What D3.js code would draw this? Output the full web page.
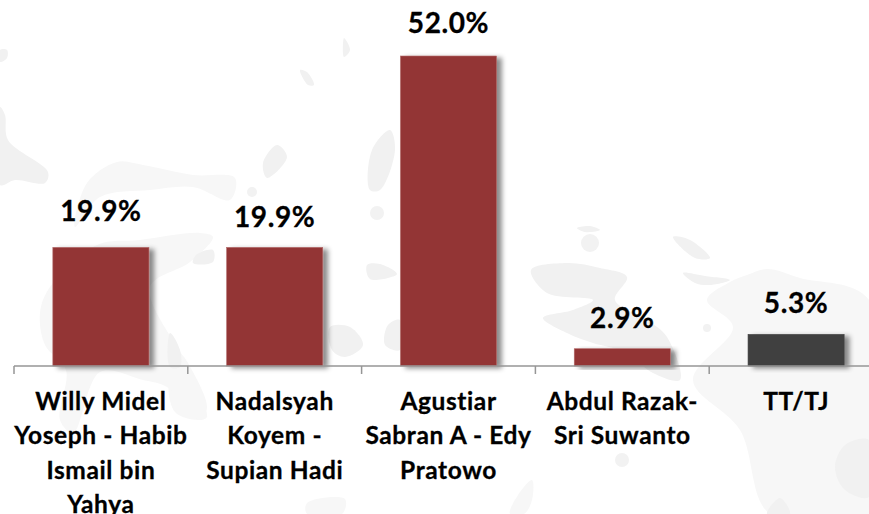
<!DOCTYPE html>
<html>
<head>
<meta charset="utf-8">
<script src="https://cdn.jsdelivr.net/npm/d3@7"></script>
<style>
html, body { margin: 0; padding: 0; background: #fff; }
svg { display: block; }
text { font-family: Lato, "Open Sans", sans-serif; font-weight: 700; fill: #000; stroke: #000; stroke-width: 0.3px; }
</style>
</head>
<body>
<div id="chart"></div>
<script>
var categories = [
    ["Willy Midel", "Yoseph - Habib", "Ismail bin", "Yahya"],
    ["Nadalsyah", "Koyem -", "Supian Hadi"],
    ["Agustiar", "Sabran A - Edy", "Pratowo"],
    ["Abdul Razak-", "Sri Suwanto"],
    ["TT/TJ"]
];
var values = [19.9, 19.9, 52.0, 2.9, 5.3];
var valueLabels = ["19.9%", "19.9%", "52.0%", "2.9%", "5.3%"];
var barColors = ["#933635", "#933635", "#933635", "#933635", "#404040"];
var barEdges = ["#b26a69", "#b26a69", "#b26a69", "#b26a69", "#404040"];

var width = 869, height = 514;
var axisY = 366;

// faint map of islands behind the chart
var paleIslands = [
    [[707,300],[730,282],[747,275],[767,269],[800,278],[869,300],[869,514],[770,514],[740,430],[693,380],[733,327]],
    [[510,514],[518,495],[532,480],[532,500],[524,514]],
    [[170,383],[190,385],[207,417],[198,420],[175,412]],
    [[40,313],[50,287],[97,245],[140,240],[200,233],[213,237],[190,262],[150,287],[177,347],[188,363],[207,407],[200,420],[167,387],[143,380],[100,372],[73,433],[60,420],[66,370],[45,345]],
    [[75,227],[87,183],[117,162],[143,165],[193,175],[235,178],[230,200],[193,187],[150,190],[100,197]],
    [[307,503],[345,499],[342,514],[307,514]]
];
var darkIslands = [
    [[531,270],[567,263],[600,268],[627,277],[615,300],[647,320],[667,337],[680,380],[653,373],[625,352],[593,343],[567,333],[543,318],[573,310],[593,300],[547,293]],
    [[869,440],[845,445],[835,467],[845,490],[869,497]],
    [[767,514],[780,498],[790,514]],
    [[683,273],[705,276],[730,280],[710,285],[695,283]],
    [[673,237],[690,240],[710,258],[695,258]],
    [[0,107],[5,115],[8,140],[48,172],[45,183],[15,180],[0,185]],
    [[263,163],[277,145],[287,157],[267,178]],
    [[193,263],[196,255],[213,250],[213,262]],
    [[367,265],[380,264],[397,274],[370,279]],
    [[330,327],[350,327],[363,345],[345,357],[332,350]],
    [[385,345],[388,325],[400,320],[400,350]],
    [[370,190],[372,150],[390,130],[395,150],[380,190]],
    [[344,38],[350,50],[344,57]],
    [[300,70],[307,72],[314,85],[308,85]],
    [[170,333],[180,350],[180,367],[170,367]],
    [[0,50],[7,50],[7,58],[0,62]],
    [[577,228],[590,226],[600,230],[585,232]]
];
var roundIslands = [
    [590, 243, 9], [707, 328, 4], [622, 460, 7], [252, 192, 5], [377, 213, 7]
];

var svg = d3.select("#chart").append("svg")
    .attr("width", width)
    .attr("height", height);

var defs = svg.append("defs");
var shadow = defs.append("filter").attr("id", "barShadow")
    .attr("x", "-10%").attr("y", "-10%").attr("width", "130%").attr("height", "130%");
shadow.append("feDropShadow")
    .attr("dx", 5).attr("dy", 2)
    .attr("stdDeviation", 2.5)
    .attr("flood-color", "#000")
    .attr("flood-opacity", 0.45);

var blob = d3.line().curve(d3.curveCatmullRomClosed.alpha(0.5));
var map = svg.append("g");
map.selectAll(".pale")
    .data(paleIslands)
    .enter().append("path")
    .attr("class", "pale")
    .attr("d", blob)
    .attr("fill", "#f7f7f7");
map.selectAll(".dark")
    .data(darkIslands)
    .enter().append("path")
    .attr("class", "dark")
    .attr("d", blob)
    .attr("fill", "#f1f1f1");
map.selectAll("circle")
    .data(roundIslands)
    .enter().append("circle")
    .attr("cx", function(d) { return d[0]; })
    .attr("cy", function(d) { return d[1]; })
    .attr("r", function(d) { return d[2]; })
    .attr("fill", "#f2f2f2");

var x = d3.scaleBand()
    .domain(d3.range(categories.length))
    .range([14, 883])
    .paddingInner(0.447)
    .paddingOuter(0.2235);

var y = d3.scaleLinear()
    .domain([0, 52])
    .range([axisY, 56]);

svg.append("g").selectAll("rect")
    .data(values)
    .enter().append("rect")
    .attr("x", function(d, i) { return x(i); })
    .attr("y", function(d) { return y(d); })
    .attr("width", x.bandwidth())
    .attr("height", function(d) { return axisY - y(d); })
    .attr("fill", function(d, i) { return barColors[i]; })
    .attr("stroke", function(d, i) { return barEdges[i]; })
    .attr("stroke-width", 0.6)
    .attr("filter", "url(#barShadow)");

// axis line and the ticks between categories
var step = x.step();
var axis = svg.append("g").attr("stroke", "#969696").attr("stroke-width", 1.5);
axis.append("line")
    .attr("x1", 14).attr("x2", width)
    .attr("y1", axisY).attr("y2", axisY);
axis.selectAll(".tick")
    .data(d3.range(categories.length + 1))
    .enter().append("line")
    .attr("class", "tick")
    .attr("x1", function(i) { return 14 + i * step; })
    .attr("x2", function(i) { return 14 + i * step; })
    .attr("y1", axisY)
    .attr("y2", axisY + 8);

// value labels sit slightly unevenly in the original
var labelGap = [26, 20, 23, 21, 21];
svg.append("g").selectAll("text")
    .data(valueLabels)
    .enter().append("text")
    .attr("x", function(d, i) { return x(i) + x.bandwidth() / 2; })
    .attr("y", function(d, i) { return y(values[i]) - labelGap[i]; })
    .attr("text-anchor", "middle")
    .attr("font-size", "28px")
    .attr("letter-spacing", "0.6px")
    .text(function(d) { return d; });

var catLabels = svg.append("g").selectAll("text")
    .data(categories)
    .enter().append("text")
    .attr("text-anchor", "middle")
    .attr("font-size", "24.5px")
    .attr("letter-spacing", "0.6px");

catLabels.selectAll("tspan")
    .data(function(d, i) { return d.map(function(line) { return {line: line, i: i}; }); })
    .enter().append("tspan")
    .attr("x", function(d) { return x(d.i) + x.bandwidth() / 2; })
    .attr("y", function(d, j) { return 410 + j * 34.4; })
    .text(function(d) { return d.line; });
</script>
</body>
</html>
